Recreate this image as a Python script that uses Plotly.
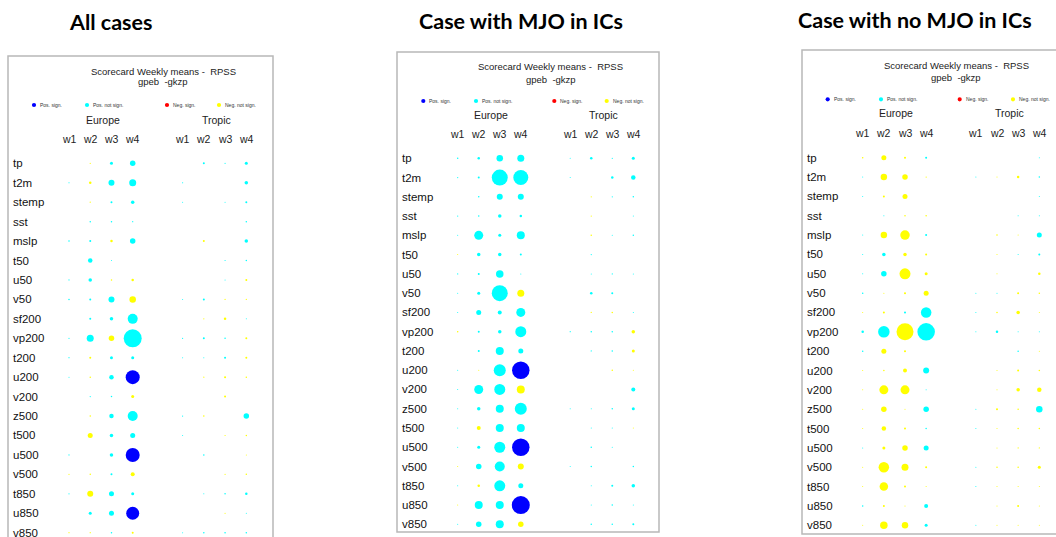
import plotly.graph_objects as go

W, H = 1056, 537

VARIABLES = ["tp", "t2m", "stemp", "sst", "mslp", "t50", "u50", "v50", "sf200", "vp200",
             "t200", "u200", "v200", "z500", "t500", "u500", "v500", "t850", "u850", "v850"]
WEEKS = ["w1", "w2", "w3", "w4"]
REGIONS = ["Europe", "Tropic"]
HEADINGS = ["All cases", "Case with MJO in ICs", "Case with no MJO in ICs"]
CARD_TITLE = "Scorecard Weekly means -  RPSS"
CARD_SUB = "gpeb  -gkzp"
LEGEND_LABELS = ["Pos. sign.", "Pos. not sign.", "Neg. sign.", "Neg. not sign."]
LEGEND_COLORS = ["#0000ff", "#00ffff", "#ff0000", "#ffff00"]

# RPSS difference per variable: Europe w1-w4, Tropic w1-w4 (positive = better)
VALUES_ALL = [
    [0, -0.012, 0.03, 0.055, 0, 0.02, 0.012, 0.03],
    [0.012, -0.025, 0.06, 0.07, 0.012, 0, 0, 0.035],
    [0, -0.012, 0.02, 0.035, 0.01, 0, 0.01, 0.02],
    [0, 0.015, 0.015, 0.012, 0, 0, 0, 0.015],
    [0.015, 0.02, -0.025, 0.055, 0, -0.02, 0, 0.035],
    [0, 0.045, 0.01, 0, 0, 0, 0.012, 0.015],
    [0.012, 0.035, -0.015, -0.025, 0, 0, 0.01, -0.02],
    [0.015, 0.02, 0.06, -0.065, 0.01, 0.02, -0.012, -0.012],
    [0, 0.02, 0.035, 0.10, 0, -0.012, -0.025, 0.01],
    [0.012, 0.07, -0.055, 0.18, 0.012, 0.02, 0.015, -0.02],
    [0.012, -0.02, 0.03, 0.03, 0.01, 0.01, 0.02, -0.02],
    [0.01, -0.015, 0.045, 0.14, 0, -0.012, -0.02, -0.015],
    [0, 0.012, 0.015, -0.03, 0, 0, -0.02, 0],
    [0, -0.015, 0.045, 0.10, 0.012, -0.015, 0, 0.055],
    [0, -0.05, 0.035, 0.05, 0.01, 0, -0.012, -0.015],
    [0.012, 0, 0.035, 0.14, 0, 0.015, 0, -0.01],
    [-0.012, -0.015, 0.02, -0.04, 0, 0, -0.012, -0.015],
    [0.012, -0.06, 0.05, 0.03, 0, 0.01, 0.015, 0.025],
    [0, 0.03, 0.05, 0.13, 0, 0, -0.012, 0.01],
    [-0.012, -0.012, 0.015, -0.02, 0.01, 0.015, 0.015, 0.015],
]
SIG_ALL = [("u200", 3), ("u500", 3), ("u850", 3)]

VALUES_MJO = [
    [0.015, 0.025, 0.065, 0.07, 0.01, 0.025, 0.012, 0.03],
    [0.012, 0.02, 0.16, 0.15, 0.01, 0, 0.025, 0.045],
    [0, 0.015, 0.06, 0.06, 0, -0.012, 0.012, 0.015],
    [0.012, 0.015, 0.035, 0.025, 0, -0.012, 0, 0.01],
    [0.01, 0.09, 0.03, 0.08, 0, -0.015, 0.01, 0.015],
    [-0.01, 0.035, 0.035, 0.02, 0, 0.012, 0, 0],
    [0.012, 0.02, 0.075, 0.01, 0, 0.01, 0.012, 0.01],
    [0.01, 0.03, 0.16, -0.07, 0, 0.025, 0.02, 0],
    [0.01, 0.05, 0.04, 0.09, 0, -0.012, -0.015, 0.01],
    [-0.015, 0.02, 0.035, 0.11, 0.012, 0.015, 0.015, -0.035],
    [0, 0.02, 0.08, 0.05, 0, 0.012, 0.015, -0.03],
    [0.01, -0.01, 0.12, 0.175, 0, 0, -0.015, -0.01],
    [0.01, 0.09, 0.11, -0.08, 0, 0, 0, 0.04],
    [0.01, 0.035, 0.08, 0.12, 0.01, 0.01, 0.015, 0.03],
    [0.01, -0.04, 0.08, 0.08, 0, 0.01, 0.01, -0.01],
    [0.01, 0.03, 0.11, 0.175, 0, 0.015, 0.01, 0],
    [-0.01, 0.055, 0.10, -0.06, 0.01, 0.015, 0, 0.015],
    [0.01, -0.025, 0.11, 0.05, 0, 0.01, 0.02, 0.035],
    [-0.01, 0.08, 0.08, 0.18, 0, 0.01, 0.015, 0.01],
    [0.01, 0.055, 0.08, -0.055, 0, 0.015, 0.015, 0.02],
]
SIG_MJO = [("u200", 3), ("u500", 3), ("u850", 3)]

VALUES_NOMJO = [
    [-0.015, -0.05, -0.02, 0.02, 0, 0, 0, 0.01],
    [0.01, -0.065, -0.055, -0.012, 0.01, -0.01, -0.025, 0.015],
    [0.01, -0.02, -0.05, 0, 0, 0, 0, 0.01],
    [0, 0.01, -0.015, -0.015, 0, 0, 0.01, 0.01],
    [0.01, -0.065, -0.095, 0.02, 0, -0.015, -0.01, 0.05],
    [0.01, 0.035, -0.035, -0.02, 0, -0.01, 0.01, 0.02],
    [0.01, 0.055, -0.11, -0.03, 0, -0.01, 0, -0.025],
    [0.015, -0.01, -0.02, -0.05, 0.01, 0.01, -0.02, -0.015],
    [-0.01, -0.02, 0.02, 0.105, 0.01, -0.015, -0.035, -0.01],
    [0.025, 0.115, -0.17, 0.175, 0.01, 0.025, 0.01, 0.01],
    [0.015, -0.05, -0.02, 0, 0, 0, 0.015, -0.01],
    [-0.01, -0.015, -0.04, 0.06, 0, -0.01, -0.02, -0.015],
    [-0.01, -0.09, -0.09, 0.01, 0, -0.01, -0.035, -0.045],
    [-0.01, -0.055, -0.01, 0.055, 0.01, -0.02, -0.015, 0.065],
    [-0.01, -0.045, -0.02, 0.015, 0.01, -0.01, -0.015, -0.015],
    [0.01, -0.03, -0.055, 0.05, 0, -0.01, -0.012, -0.012],
    [-0.01, -0.105, -0.07, -0.02, 0.01, -0.015, -0.015, -0.03],
    [-0.01, -0.085, -0.02, -0.01, 0.01, -0.01, -0.01, -0.01],
    [0.015, -0.02, -0.01, 0.04, 0, -0.01, -0.02, -0.01],
    [-0.01, -0.075, -0.065, 0.03, 0.01, -0.01, -0.01, -0.01],
]
SIG_NOMJO = []

DATASETS = [(VALUES_ALL, SIG_ALL), (VALUES_MJO, SIG_MJO), (VALUES_NOMJO, SIG_NOMJO)]

# ---- layout geometry (pixels) ----
SIZE_SCALE = 100.0       # marker diameter px per unit of RPSS difference
GAP = 2.35               # gap between Europe w4 and Tropic w1 in column units
COLPOS = [0, 1, 2, 3, 3 + GAP, 4 + GAP, 5 + GAP, 6 + GAP]
PANELS = [
    dict(box=(8, 56, 273, 560), x0=69, x1=246.3, y0=163.3, y1=532.7, tx=163, ty=71, sy=82,
         ly=105, lx=[34, 87, 167, 219], ry=120, rx=[102.7, 216], hy=139.3, labx=11, head=(110.5, 22)),
    dict(box=(397, 52, 659, 532), x0=457.7, x1=633.3, y0=158.3, y1=524.3, tx=550.8, ty=66.7, sy=79.3,
         ly=101, lx=[423.3, 476, 554.3, 606.7], ry=115, rx=[491.3, 603.3], hy=134.3, labx=400, head=(521, 21)),
    dict(box=(802, 50, 1062, 534), x0=862.7, x1=1039.3, y0=157.7, y1=525.3, tx=956.3, ty=65.3, sy=77.3,
         ly=99.3, lx=[827.7, 881, 959.7, 1013], ry=113.3, rx=[896.3, 1009.3], hy=133.3, labx=805, head=(914.5, 20)),
]
LEG_DOT = 4.2

def X(p):
    return p / W

def Y(p):
    return 1 - p / H

TXT = "Liberation Sans, Arial, sans-serif"
fig = go.Figure()
annotations = []
shapes = []
layout_axes = {}

for i, (panel, (vals, sig)) in enumerate(zip(PANELS, DATASETS)):
    n = "" if i == 0 else str(i + 1)
    xa, ya = "x" + n, "y" + n
    xmax = COLPOS[-1]
    nrow = len(VARIABLES) - 1
    layout_axes["xaxis" + n] = dict(domain=[X(panel["x0"]), X(panel["x1"])], range=[0, xmax],
                                    anchor=ya, visible=False, fixedrange=True)
    layout_axes["yaxis" + n] = dict(domain=[Y(panel["y1"]), Y(panel["y0"])], range=[nrow, 0],
                                    anchor=xa, visible=False, fixedrange=True)

    xs, ys, sizes, colors = [], [], [], []
    sigset = set(sig)
    for r, var in enumerate(VARIABLES):
        for c, v in enumerate(vals[r]):
            if v == 0:
                continue
            s = (var, c) in sigset
            if v > 0:
                col = LEGEND_COLORS[0] if s else LEGEND_COLORS[1]
            else:
                col = LEGEND_COLORS[2] if s else LEGEND_COLORS[3]
            xs.append(COLPOS[c]); ys.append(r)
            sizes.append(abs(v) * SIZE_SCALE); colors.append(col)
    fig.add_trace(go.Scatter(x=xs, y=ys, mode="markers", xaxis=xa, yaxis=ya, cliponaxis=False,
                             marker=dict(size=sizes, color=colors, opacity=1, line=dict(width=0)),
                             showlegend=False, hoverinfo="skip"))
    # legend dots + labels
    for p, lab, col in zip(panel["lx"], LEGEND_LABELS, LEGEND_COLORS):
        r = LEG_DOT / 2
        shapes.append(dict(type="circle", xref="paper", yref="paper",
                           x0=X(p - r), x1=X(p + r), y0=Y(panel["ly"] + r), y1=Y(panel["ly"] - r),
                           fillcolor=col, line=dict(width=0)))
        annotations.append(dict(text=lab, xref="paper", yref="paper", x=X(p + 4), y=Y(panel["ly"]),
                                xanchor="left", yanchor="middle", showarrow=False,
                                font=dict(family=TXT, size=5, color="#333")))
    # box
    L, T, R, B = panel["box"]
    shapes.append(dict(type="rect", xref="paper", yref="paper", x0=X(L), x1=X(R), y0=Y(B), y1=Y(T),
                       line=dict(color="#b8b8b8", width=1.5), fillcolor="rgba(0,0,0,0)"))
    # titles
    annotations.append(dict(text=CARD_TITLE, xref="paper", yref="paper", x=X(panel["tx"]), y=Y(panel["ty"]),
                            xanchor="center", yanchor="middle", showarrow=False,
                            font=dict(family=TXT, size=9.5, color="#222")))
    annotations.append(dict(text=CARD_SUB, xref="paper", yref="paper", x=X(panel["tx"]), y=Y(panel["sy"]),
                            xanchor="center", yanchor="middle", showarrow=False,
                            font=dict(family=TXT, size=9.5, color="#222")))
    for p, reg in zip(panel["rx"], REGIONS):
        annotations.append(dict(text=reg, xref="paper", yref="paper", x=X(p), y=Y(panel["ry"]),
                                xanchor="center", yanchor="middle", showarrow=False,
                                font=dict(family=TXT, size=10.5, color="#222")))
    for c, cp in enumerate(COLPOS):
        annotations.append(dict(text=WEEKS[c % 4], xref=xa, yref="paper", x=cp, y=Y(panel["hy"]),
                                xanchor="center", yanchor="middle", showarrow=False,
                                font=dict(family=TXT, size=10.5, color="#222")))
    for r, var in enumerate(VARIABLES):
        annotations.append(dict(text=var, xref="paper", yref=ya, x=X(panel["labx"]), y=r,
                                xanchor="left", yanchor="middle", showarrow=False,
                                font=dict(family=TXT, size=11.5, color="#111")))
    hx, hy = panel["head"]
    annotations.append(dict(text="<b>" + HEADINGS[i] + "</b>", xref="paper", yref="paper", x=X(hx), y=Y(hy),
                            xanchor="center", yanchor="middle", showarrow=False,
                            font=dict(family="Lato, Open Sans, sans-serif", size=21.5, color="#000")))

fig.update_layout(width=W, height=H, autosize=False, margin=dict(l=0, r=0, t=0, b=0),
                  paper_bgcolor="white", plot_bgcolor="white",
                  annotations=annotations, shapes=shapes, **layout_axes)
fig.write_html("out.html", config={"displayModeBar": False})
